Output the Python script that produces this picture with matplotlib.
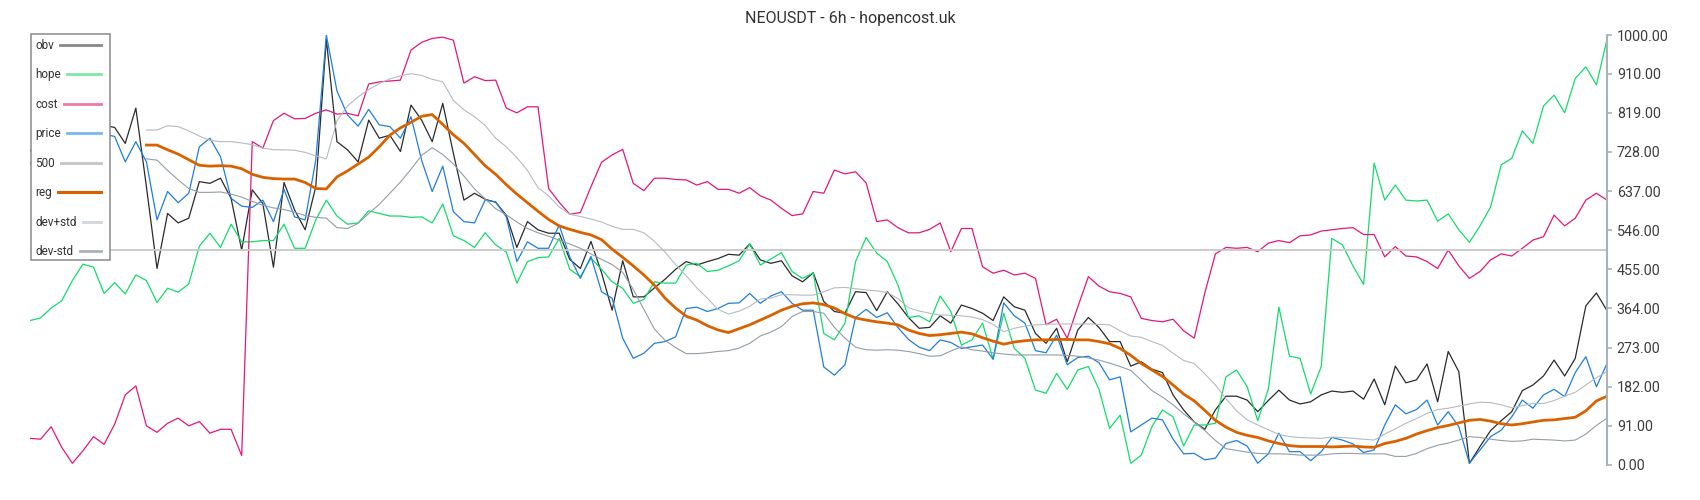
import matplotlib
matplotlib.use("Agg")
import numpy as np
import matplotlib.pyplot as plt
from matplotlib.lines import Line2D
from matplotlib.patches import Rectangle

plt.rcParams["font.family"] = ["Roboto", "DejaVu Sans"]

# ================================
# data (normalised 0..1000, one sample every 2 candles)
# ================================
obv = [730, 760, 715, 775, 740, 705, 765, 790, 785, 748,
       830, 647, 457, 585, 563, 574, 659, 655, 667, 620,
       500, 640, 608, 460, 657, 593, 547, 647, 990, 752,
       733, 705, 802, 760, 767, 729, 837, 802, 752, 841,
       725, 616, 632, 618, 611, 581, 506, 566, 547, 539,
       539, 478, 457, 520, 447, 360, 475, 391, 391, 412,
       432, 455, 473, 465, 473, 480, 490, 488, 514, 477,
       469, 475, 440, 426, 447, 380, 357, 353, 403, 401,
       359, 403, 375, 343, 318, 320, 347, 330, 372, 364,
       353, 336, 391, 368, 360, 306, 283, 318, 240, 314,
       343, 320, 287, 287, 230, 240, 223, 215, 163, 128,
       100, 83, 128, 160, 160, 151, 124, 150, 174, 151,
       142, 147, 163, 172, 169, 172, 153, 200, 140, 230,
       191, 198, 235, 147, 264, 217, 4, 43, 80, 103,
       124, 173, 186, 207, 244, 207, 248, 370, 400, 359]

hope = [336, 342, 365, 382, 429, 467, 460, 399, 424, 398,
        442, 429, 378, 411, 402, 421, 509, 539, 506, 560,
        519, 519, 522, 522, 560, 504, 504, 570, 616, 579,
        560, 563, 591, 585, 579, 579, 576, 577, 563, 607,
        533, 522, 506, 540, 512, 495, 423, 473, 482, 484,
        527, 455, 438, 481, 455, 426, 411, 376, 385, 426,
        423, 423, 465, 469, 450, 453, 463, 475, 514, 465,
        479, 494, 450, 434, 447, 306, 291, 330, 473, 529,
        493, 473, 419, 343, 347, 333, 393, 357, 279, 291,
        330, 246, 353, 271, 248, 174, 167, 213, 176, 221,
        229, 176, 85, 116, 4, 23, 89, 128, 112, 44,
        93, 93, 97, 205, 221, 182, 103, 176, 367, 253,
        248, 165, 229, 527, 512, 463, 420, 702, 616, 651,
        616, 614, 616, 567, 584, 547, 518, 556, 600, 698,
        713, 777, 748, 835, 860, 819, 899, 926, 884, 990]

cost = [62, 60, 89, 41, 4, 33, 66, 48, 95, 163,
        184, 91, 76, 97, 109, 91, 101, 74, 83, 83,
        22, 752, 737, 801, 818, 805, 806, 818, 826, 816,
        818, 812, 886, 891, 893, 895, 965, 983, 992, 995,
        988, 888, 903, 894, 895, 830, 819, 833, 833, 643,
        611, 583, 587, 647, 704, 721, 734, 655, 638, 667,
        667, 664, 663, 651, 659, 641, 641, 632, 645, 626,
        616, 597, 580, 584, 636, 632, 686, 677, 682, 656,
        566, 570, 552, 540, 540, 548, 563, 496, 550, 550,
        461, 446, 453, 442, 446, 434, 326, 339, 295, 368,
        438, 416, 403, 399, 391, 341, 336, 333, 339, 312,
        295, 400, 491, 506, 504, 506, 496, 516, 522, 517,
        533, 535, 544, 547, 550, 552, 536, 536, 484, 508,
        486, 484, 473, 457, 500, 463, 434, 450, 477, 491,
        486, 504, 523, 531, 581, 556, 574, 616, 632, 616]

price = [700, 730, 690, 745, 720, 690, 740, 770, 764, 705,
         752, 705, 570, 636, 610, 632, 740, 760, 717, 620,
         602, 599, 616, 566, 641, 577, 570, 709, 1000, 870,
         814, 788, 827, 791, 787, 760, 810, 709, 636, 695,
         589, 566, 563, 616, 612, 577, 473, 519, 504, 504,
         558, 484, 434, 485, 403, 388, 295, 248, 260, 283,
         287, 298, 364, 367, 357, 364, 376, 377, 399, 376,
         393, 403, 376, 360, 360, 228, 209, 233, 343, 362,
         343, 354, 320, 292, 274, 266, 291, 285, 271, 275,
         279, 246, 377, 347, 330, 266, 261, 302, 233, 250,
         253, 238, 198, 205, 77, 93, 109, 105, 60, 26,
         27, 12, 16, 50, 57, 44, 4, 26, 74, 31,
         31, 10, 31, 64, 58, 49, 29, 35, 93, 140,
         119, 129, 151, 93, 124, 89, 4, 35, 66, 81,
         112, 151, 132, 163, 176, 159, 215, 252, 182, 236]

# regression band starts later (rolling window)
band_start = 11
reg = [744, 744, 733, 723, 710, 697, 695, 696, 695, 689,
       676, 669, 666, 665, 665, 657, 643, 642, 670, 684,
       700, 716, 740, 767, 784, 797, 811, 815, 792, 768,
       748, 722, 696, 676, 652, 630, 610, 590, 571, 556,
       548, 541, 535, 524, 502, 483, 463, 442, 418, 388,
       365, 346, 337, 324, 314, 308, 317, 326, 337, 348,
       360, 369, 375, 377, 373, 365, 352, 342, 337, 333,
       330, 326, 314, 306, 301, 303, 306, 309, 305, 296,
       288, 281, 286, 289, 291, 291, 292, 292, 291, 291,
       287, 282, 271, 255, 236, 221, 206, 186, 165, 149,
       127, 104, 88, 76, 69, 64, 56, 50, 45, 43,
       43, 43, 42, 43, 44, 42, 41, 50, 55, 62,
       72, 80, 87, 92, 98, 104, 106, 102, 96, 93,
       96, 100, 104, 105, 108, 111, 126, 149, 160]

dev_plus = [779, 779, 789, 787, 777, 765, 755, 752, 752, 749,
            745, 737, 733, 733, 732, 727, 719, 712, 800, 835,
            856, 873, 887, 898, 905, 910, 906, 897, 891, 848,
            826, 810, 790, 760, 740, 715, 685, 645, 626, 600,
            583, 578, 572, 565, 555, 548, 548, 540, 520, 495,
            466, 440, 412, 388, 362, 351, 358, 369, 386, 388,
            396, 396, 395, 395, 403, 412, 413, 410, 407, 405,
            401, 387, 366, 358, 353, 349, 348, 347, 344, 338,
            327, 310, 318, 323, 326, 327, 328, 328, 328, 328,
            327, 326, 312, 300, 297, 287, 278, 260, 243, 236,
            212, 186, 154, 126, 105, 93, 82, 71, 66, 64,
            63, 62, 65, 64, 62, 60, 58, 72, 84, 97,
            108, 120, 129, 132, 137, 142, 146, 145, 140, 133,
            138, 143, 143, 150, 160, 169, 186, 203, 217]

dev_minus = [712, 709, 685, 663, 643, 634, 634, 635, 630, 623,
             613, 604, 598, 594, 588, 580, 576, 574, 552, 550,
             562, 585, 606, 632, 658, 688, 720, 738, 722, 700,
             672, 642, 619, 596, 582, 565, 550, 540, 532, 523,
             514, 504, 491, 478, 466, 448, 408, 362, 316, 290,
             273, 259, 259, 261, 264, 266, 272, 283, 300, 309,
             322, 345, 357, 357, 353, 320, 295, 274, 268, 267,
             268, 267, 264, 259, 253, 254, 265, 275, 268, 265,
             261, 258, 256, 256, 256, 256, 256, 255, 253, 249,
             244, 237, 229, 220, 197, 173, 158, 140, 119, 100,
             80, 57, 38, 34, 30, 27, 26, 26, 25, 23,
             23, 23, 26, 27, 27, 26, 26, 26, 20, 20,
             27, 38, 46, 51, 58, 66, 64, 60, 57, 55,
             56, 60, 59, 58, 56, 58, 72, 92, 109]

level = 500
y_ticks = [0, 91, 182, 273, 364, 455, 546, 637, 728, 819, 910, 1000]

# ================================
# figure
# ================================
W, H = 1700, 500
fig = plt.figure(figsize=(W / 100, H / 100), dpi=100)
ax = fig.add_axes([30 / W, 35 / H, 1577 / W, 430 / H])

x = np.arange(len(obv))
xb = np.arange(band_start, band_start + len(reg))

ax.plot(x, obv, color="#2b2b2b", lw=0.9)
ax.plot(x, hope, color="#12dc6a", lw=0.9)
ax.plot(x, cost, color="#e5177b", lw=0.9)
ax.plot(x, price, color="#1f7fdf", lw=0.9)
ax.axhline(level, color="#c8c8c8", lw=1.3)
ax.plot(xb, reg, color="#d96200", lw=2.0)
ax.plot(xb, dev_plus, color="#b4bcc2", lw=0.8)
ax.plot(xb, dev_minus, color="#939ea6", lw=0.8)

ax.set_xlim(0, len(obv) - 1)
ax.set_ylim(0, 1000)
ax.set_xticks([])
ax.yaxis.tick_right()
ax.set_yticks(y_ticks)
ax.set_yticklabels([f"{v:.2f}" for v in y_ticks])
ax.tick_params(axis="y", direction="out", length=3.6, width=1.2,
               color="#aab3ba", pad=3.5, labelsize=10.3, labelcolor="#3c3c3c")
for side in ["left", "top", "bottom"]:
    ax.spines[side].set_visible(False)
ax.spines["right"].set_color("#aab3ba")
ax.spines["right"].set_linewidth(1.5)

fig.text(0.5, 1 - 19 / H, "NEOUSDT - 6h - hopencost.uk", ha="center", va="center",
         fontsize=11.5, color="#333333")

# ================================
# legend: label left, line stretched to the right edge
# ================================
entries = [("obv", "#888888", 2.0), ("hope", "#7ee8a8", 2.0), ("cost", "#ec78b0", 2.0),
           ("price", "#78b8f0", 2.0), ("500", "#c4c4c4", 2.0), ("reg", "#d86000", 2.2),
           ("dev+std", "#d0d6da", 2.0), ("dev-std", "#a8b2ba", 2.0)]

fig.add_artist(Rectangle((30.7 / W, 1 - 260 / H), 79.6 / W, 226 / H, transform=fig.transFigure,
                         facecolor="white", edgecolor="#8a8a8a", lw=1.1, zorder=5))
renderer = fig.canvas.get_renderer()
for i, (label, color, lw) in enumerate(entries):
    base = 49 + 29.43 * i
    t = fig.text(35 / W, 1 - base / H, label, ha="left", va="baseline",
                 fontsize=8.5, color="#333333", zorder=6)
    x_end = t.get_window_extent(renderer=renderer).x1
    fig.add_artist(Line2D([(x_end + 6.5) / W, 100.7 / W], [1 - (base - 4) / H] * 2,
                          transform=fig.transFigure, color=color, lw=lw, zorder=6))

fig.savefig("out.png", dpi=100)
